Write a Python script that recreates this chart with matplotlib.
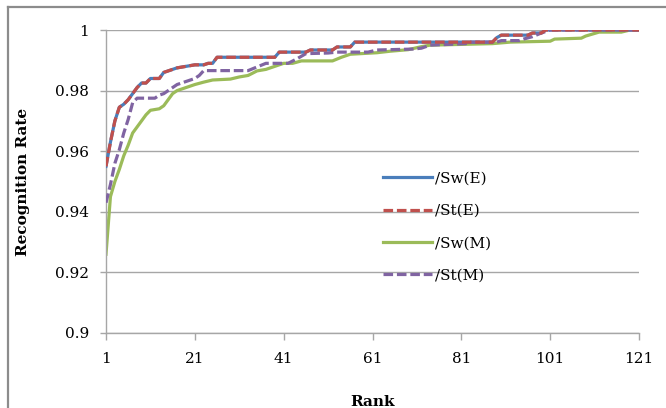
import numpy as np
import matplotlib
matplotlib.use('Agg')
import matplotlib.pyplot as plt
from matplotlib.lines import Line2D

plt.rcParams['font.family'] = 'DejaVu Serif'
plt.rcParams['font.size'] = 10.5

# (rank, recognition rate) points
e_points = [(1, 0.955), (2, 0.963), (3, 0.970), (4, 0.9745), (5, 0.9755), (6, 0.977),
            (7, 0.979), (8, 0.981), (9, 0.9825), (10, 0.9825), (11, 0.984), (13, 0.984),
            (14, 0.986), (15, 0.9865), (17, 0.9875), (19, 0.988), (21, 0.9885), (23, 0.9885),
            (24, 0.989), (25, 0.989), (26, 0.991), (39, 0.991), (40, 0.9927), (46, 0.9927),
            (47, 0.9934), (52, 0.9934), (53, 0.9944), (56, 0.9944), (57, 0.996), (88, 0.996),
            (89, 0.9975), (90, 0.9983), (96, 0.9983), (97, 0.999), (99, 0.999), (100, 1.0),
            (121, 1.0)]
sw_m_points = [(1, 0.926), (2, 0.945), (3, 0.950), (4, 0.954), (5, 0.9585), (6, 0.962),
               (7, 0.966), (8, 0.968), (9, 0.970), (10, 0.972), (11, 0.9735), (13, 0.974),
               (14, 0.975), (15, 0.977), (16, 0.979), (17, 0.980), (18, 0.9805), (19, 0.981),
               (21, 0.982), (23, 0.9828), (25, 0.9835), (29, 0.9838), (31, 0.9845), (33, 0.985),
               (35, 0.9865), (37, 0.987), (39, 0.988), (41, 0.989), (43, 0.989), (45, 0.9898),
               (52, 0.9898), (54, 0.991), (56, 0.992), (62, 0.9925), (65, 0.993), (69, 0.9935),
               (72, 0.9945), (74, 0.995), (88, 0.9955), (92, 0.996), (101, 0.9963), (102, 0.997),
               (108, 0.9973), (109, 0.998), (112, 0.9993), (117, 0.9993), (119, 1.0), (121, 1.0)]
st_m_points = [(1, 0.943), (2, 0.949), (3, 0.956), (4, 0.9605), (5, 0.966), (6, 0.9705),
               (7, 0.976), (8, 0.9775), (12, 0.9775), (13, 0.9785), (14, 0.979), (15, 0.980),
               (16, 0.981), (17, 0.982), (18, 0.9825), (19, 0.983), (20, 0.9835), (21, 0.984),
               (22, 0.985), (23, 0.9866), (33, 0.9866), (35, 0.9878), (37, 0.989), (42, 0.989),
               (44, 0.9905), (46, 0.9922), (51, 0.9924), (53, 0.9927), (60, 0.9927), (62, 0.9934),
               (70, 0.9937), (72, 0.994), (74, 0.995), (82, 0.9955), (83, 0.996), (89, 0.996),
               (90, 0.9965), (94, 0.9965), (95, 0.997), (97, 0.9978), (99, 0.999), (101, 1.0),
               (121, 1.0)]

x_ticks = [1, 21, 41, 61, 81, 101, 121]
y_ticks = [0.9, 0.92, 0.94, 0.96, 0.98, 1.0]
y_tick_labels = ['0.9', '0.92', '0.94', '0.96', '0.98', '1']

grid_col = '#a6a6a6'

fig = plt.figure(figsize=(6.66, 4.08), dpi=100, facecolor='white')
ax = fig.add_axes([106/666, 1-333/408, 533/666, 303/408])

def unzip(points):
    r, v = zip(*points)
    return np.array(r), np.array(v)

dash = (3, 1.2)
r, v = unzip(e_points)
ax.plot(r, v, color='#4a7ebb', lw=2.3, label='/Sw(E)', zorder=3)
ax.plot(r, v, color='#c0504d', lw=2.3, dashes=dash, label='/St(E)', zorder=4)
r, v = unzip(sw_m_points)
ax.plot(r, v, color='#9bbb59', lw=2.3, label='/Sw(M)', zorder=2)
r, v = unzip(st_m_points)
ax.plot(r, v, color='#8064a2', lw=2.3, dashes=dash, label='/St(M)', zorder=3.5)

ax.set_xlim(1, 121)
ax.set_ylim(0.9, 1.0)
ax.set_xticks(x_ticks)
ax.set_yticks(y_ticks)
ax.set_yticklabels(y_tick_labels)
ax.yaxis.grid(True, color=grid_col, lw=1)
ax.set_axisbelow(True)
for s in ['top', 'right']:
    ax.spines[s].set_visible(False)
for s in ['left', 'bottom']:
    ax.spines[s].set_color(grid_col)
    ax.spines[s].set_linewidth(1)
ax.tick_params(axis='y', length=4, width=1, color=grid_col, pad=8, labelsize=11)
ax.tick_params(axis='x', length=5, width=1, color=grid_col, pad=9, labelsize=11)

ax.set_ylabel('Recognition Rate', fontweight='bold', fontsize=11)
ax.yaxis.set_label_coords(-0.143, 0.5)
ax.set_xlabel('Rank', fontweight='bold', fontsize=11)
ax.xaxis.set_label_coords(0.5, -0.205)

ax.legend(loc='upper left', bbox_to_anchor=(375/666, 1-164/408), bbox_transform=fig.transFigure,
          frameon=False, borderpad=0, handlelength=3.2, handletextpad=0.2,
          labelspacing=1.2, fontsize=11)

frame_kw = dict(color='#8c8c8c', lw=1.6, transform=fig.transFigure)
fig.add_artist(Line2D([8/666, 1], [1-7/408, 1-7/408], **frame_kw))
fig.add_artist(Line2D([8/666, 8/666], [0, 1-7/408], **frame_kw))

fig.savefig('out.png', dpi=100, facecolor='white')
